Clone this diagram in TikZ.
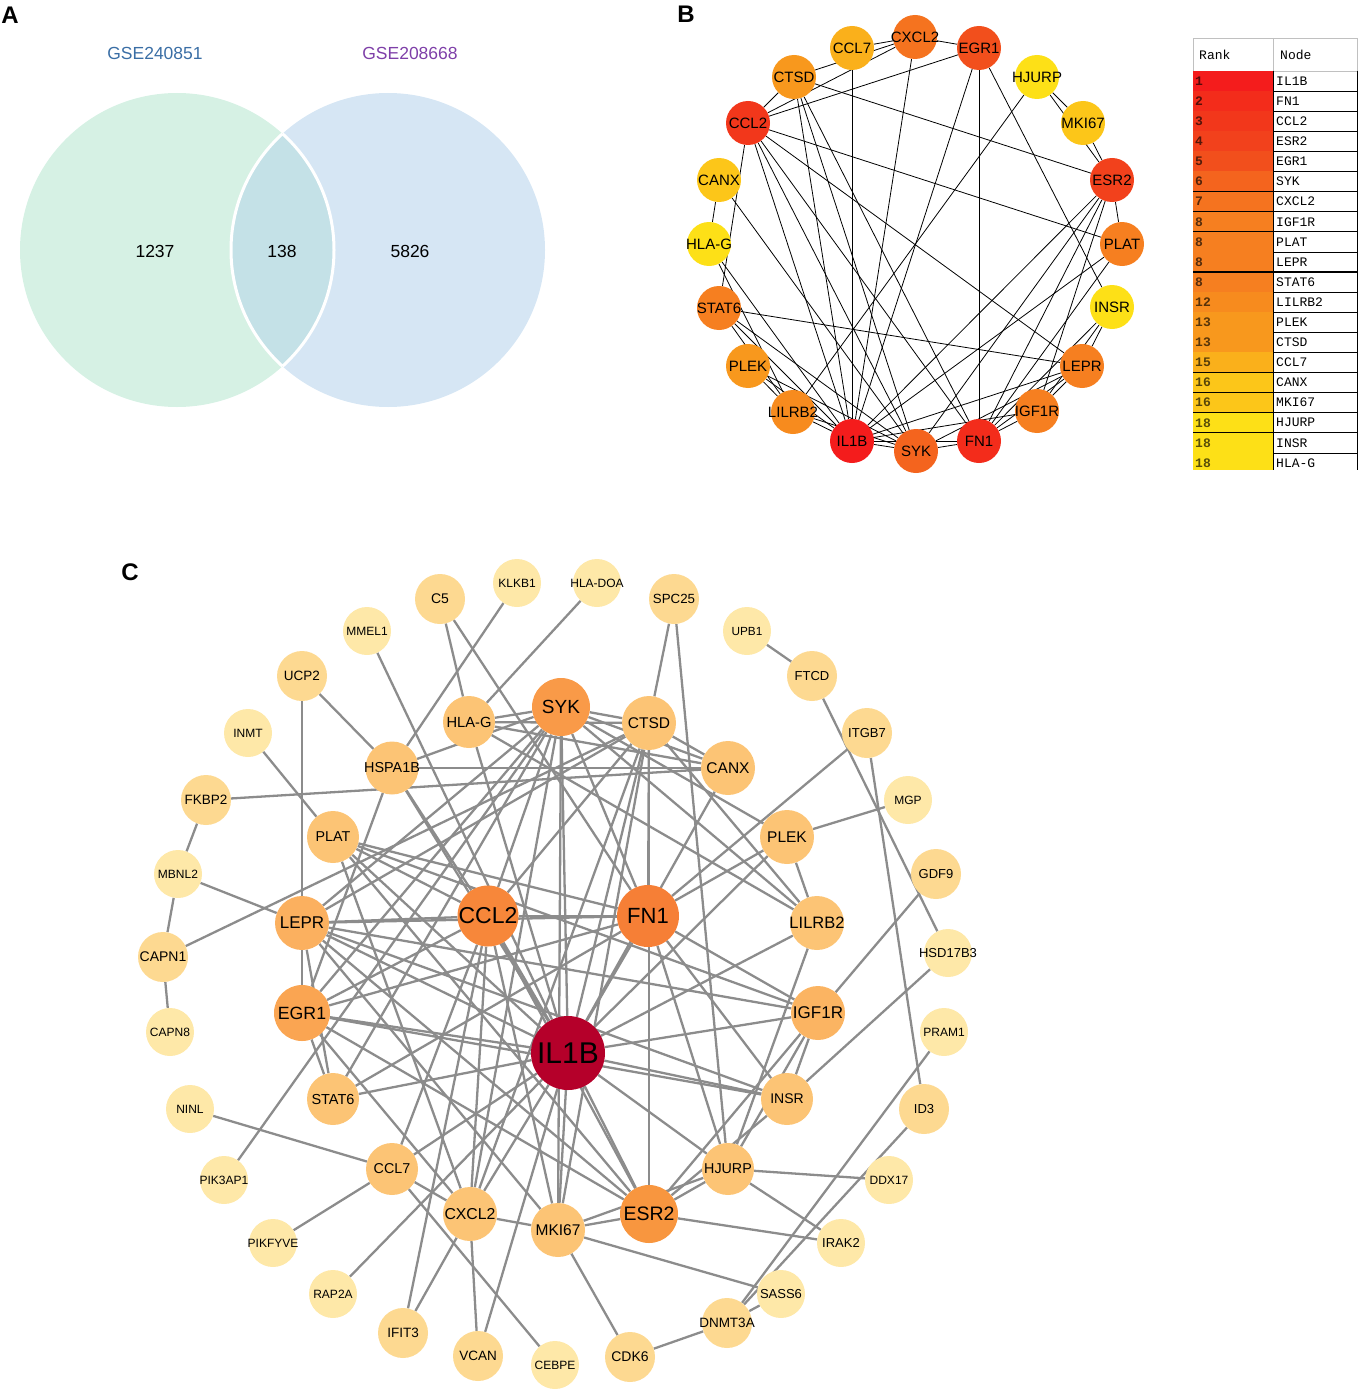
\documentclass[tikz,border=0pt]{standalone}
\usepackage{fontspec}
\setmainfont{Liberation Sans}
\newfontfamily\tabfont{Liberation Mono}
\usetikzlibrary{backgrounds}
\newcommand{\myfs}[1]{\fontsize{#1}{#1}\selectfont}
\newcommand{\zwbox}[1]{\makebox[0pt]{#1}}
% Venn colours
\definecolor{vennL}{HTML}{D6F1E4}
\definecolor{vennR}{HTML}{D6E6F4}
\definecolor{vennM}{HTML}{C4E1E7}
\definecolor{gseA}{HTML}{3A6EA5}
\definecolor{gseB}{HTML}{7E3FA8}
% rank colours (panel B)
\definecolor{rkA}{HTML}{F41C1C}
\definecolor{rkB}{HTML}{F32C1B}
\definecolor{rkC}{HTML}{F2371B}
\definecolor{rkD}{HTML}{F2411C}
\definecolor{rkE}{HTML}{F24F1C}
\definecolor{rkF}{HTML}{F4641E}
\definecolor{rkG}{HTML}{F5731F}
\definecolor{rkH}{HTML}{F67F20}
\definecolor{rkI}{HTML}{F78B1E}
\definecolor{rkJ}{HTML}{F8981D}
\definecolor{rkK}{HTML}{FAB01B}
\definecolor{rkL}{HTML}{FCC619}
\definecolor{rkM}{HTML}{FDE017}
% panel C colours
\definecolor{cIL}{HTML}{B5002A}
\definecolor{cFN}{HTML}{F67F36}
\definecolor{cCC}{HTML}{F7873A}
\definecolor{cES}{HTML}{F8963F}
\definecolor{cSY}{HTML}{F99A48}
\definecolor{cEG}{HTML}{FAA552}
\definecolor{cLE}{HTML}{FBB05F}
\definecolor{cIG}{HTML}{FBB462}
\definecolor{cmid}{HTML}{FCC475}
\definecolor{couta}{HTML}{FDD991}
\definecolor{coutb}{HTML}{FEE8A8}
\definecolor{cgray}{HTML}{8C8C8C}
\definecolor{tabgray}{HTML}{C0C0C0}
\tikzset{
  cn/.style={circle, inner sep=0pt, draw=none, text=black},
  bn/.style={circle, inner sep=0pt, draw=none, text=black, minimum size=44pt, font=\myfs{15}},
  cedge/.style={draw=cgray, line width=2.3pt},
  bedge/.style={draw=black, line width=0.8pt},
  vtxt/.style={inner sep=0pt, font=\myfs{17.5}},
  plabel/.style={inner sep=0pt, font=\myfs{24}\bfseries},
  tabtxt/.style={inner sep=0pt, font=\tabfont\myfs{13}},
  tabline/.style={draw=black, line width=0.8pt}
}
\newcommand{\cnode}[7]{\node[cn, minimum size=#4pt, fill=#5, font=\myfs{#6}] (#1) at (#2,#3) {\zwbox{#7}};}
\newcommand{\bnode}[5]{\node[bn, fill=#4] (#1) at (#2,#3) {\zwbox{#5}};}
\begin{document}
\begin{tikzpicture}[x=1pt,y=-1pt]
\useasboundingbox (0,0) rectangle (1369,1399);
% ---------------- Panel A ----------------
\node[plabel] (labA) at (10,15) {A};
\fill[vennL] (177,250) circle[radius=157pt];
\fill[vennR] (388,250) circle[radius=157pt];
\begin{scope}
  \clip (177,250) circle[radius=157pt];
  \fill[vennM] (388,250) circle[radius=157pt];
  \draw[white, line width=3pt] (388,250) circle[radius=157pt];
\end{scope}
\begin{scope}
  \clip (388,250) circle[radius=157pt];
  \draw[white, line width=3pt] (177,250) circle[radius=157pt];
\end{scope}
\node[vtxt, text=gseA] (setA) at (155,53) {GSE240851};
\node[vtxt, text=gseB] (setB) at (410,53) {GSE208668};
\node[vtxt] (nA) at (155,251) {1237};
\node[vtxt] (nAB) at (282,251) {138};
\node[vtxt] (nB) at (410,251) {5826};
% ---------------- Panel B ----------------
\node[plabel] (labB) at (686,14) {B};
\bnode{bCCL7}{852}{48}{rkK}{CCL7}
\bnode{bCXCL2}{915}{37}{rkG}{CXCL2}
\bnode{bEGR1}{979}{48}{rkE}{EGR1}
\bnode{bHJURP}{1037}{77}{rkM}{HJURP}
\bnode{bMKI67}{1083}{123}{rkL}{MKI67}
\bnode{bESR2}{1112}{180}{rkD}{ESR2}
\bnode{bPLAT}{1122}{244}{rkH}{PLAT}
\bnode{bINSR}{1112}{307}{rkM}{INSR}
\bnode{bLEPR}{1082}{366}{rkH}{LEPR}
\bnode{bIGF1R}{1037}{411}{rkH}{IGF1R}
\bnode{bFN1}{979}{441}{rkB}{FN1}
\bnode{bSYK}{916}{451}{rkF}{SYK}
\bnode{bIL1B}{852}{441}{rkA}{IL1B}
\bnode{bLILRB2}{793}{412}{rkI}{LILRB2}
\bnode{bPLEK}{748}{366}{rkJ}{PLEK}
\bnode{bSTAT6}{719}{308}{rkH}{STAT6}
\bnode{bHLAG}{709}{244}{rkM}{HLA-G}
\bnode{bCANX}{719}{180}{rkL}{CANX}
\bnode{bCCL2}{748}{123}{rkC}{CCL2}
\bnode{bCTSD}{794}{77}{rkJ}{CTSD}
\begin{scope}[on background layer]
\foreach \a/\b in {bCCL7/bCXCL2, bCXCL2/bEGR1, bCTSD/bCXCL2, bCCL2/bCTSD, bCCL2/bCXCL2, bCCL2/bEGR1,
  bCCL7/bIL1B, bCXCL2/bIL1B, bEGR1/bFN1, bEGR1/bIL1B, bEGR1/bINSR, bHJURP/bMKI67, bMKI67/bESR2,
  bHJURP/bESR2, bHJURP/bLILRB2, bCTSD/bESR2, bCCL2/bPLAT, bCCL2/bLEPR, bCCL2/bSTAT6, bCCL2/bIL1B,
  bCCL2/bSYK, bCCL2/bFN1, bCTSD/bIL1B, bCTSD/bSYK, bCTSD/bFN1, bCANX/bHLAG, bCANX/bSYK, bHLAG/bLILRB2,
  bHLAG/bIL1B, bSTAT6/bLEPR, bSTAT6/bIL1B, bSTAT6/bSYK, bSTAT6/bLILRB2, bPLEK/bLILRB2, bPLEK/bIL1B,
  bPLEK/bSYK, bLILRB2/bIL1B, bLILRB2/bSYK, bIL1B/bSYK, bIL1B/bFN1, bSYK/bFN1, bIL1B/bESR2, bIL1B/bPLAT,
  bIL1B/bLEPR, bIL1B/bIGF1R, bFN1/bIGF1R, bFN1/bLEPR, bFN1/bESR2, bFN1/bPLAT, bFN1/bINSR, bESR2/bPLAT,
  bESR2/bIGF1R, bINSR/bIGF1R, bINSR/bLEPR, bIGF1R/bLEPR, bSYK/bLEPR, bSYK/bESR2}
  \draw[bedge] (\a) -- (\b);
\end{scope}
% table
\begin{scope}
\clip (1185,30) rectangle (1369,469);
\draw[tabgray, line width=0.8pt] (1193,38) rectangle (1357,71);
\draw[tabgray, line width=0.8pt] (1273,38) -- (1273,71);
\node[tabtxt, anchor=west] (hRank) at (1199,55) {Rank};
\node[tabtxt, anchor=west] (hNode) at (1280,55) {Node};
\foreach \i/\r/\g/\c in {1/1/IL1B/rkA, 2/2/FN1/rkB, 3/3/CCL2/rkC, 4/4/ESR2/rkD, 5/5/EGR1/rkE,
  6/6/SYK/rkF, 7/7/CXCL2/rkG, 8/8/IGF1R/rkH, 9/8/PLAT/rkH, 10/8/LEPR/rkH, 11/8/STAT6/rkH,
  12/12/LILRB2/rkI, 13/13/PLEK/rkJ, 14/13/CTSD/rkJ, 15/15/CCL7/rkK, 16/16/CANX/rkL,
  17/16/MKI67/rkL, 18/18/HJURP/rkM, 19/18/INSR/rkM, 20/18/HLA-G/rkM} {
  \pgfmathsetmacro{\yt}{71+(\i-1)*20.1}
  \pgfmathsetmacro{\yb}{71+\i*20.1}
  \pgfmathsetmacro{\ym}{71+(\i-0.5)*20.1}
  \fill[\c] (1193,\yt) rectangle (1273,\yb);
  \draw[tabline] (1193,\yb) -- (1357,\yb);
  \draw[tabline] (1273,\yt) -- (1273,\yb);
  \draw[tabline] (1357,\yt) -- (1357,\yb);
  \node[tabtxt, text=\c!35!black, anchor=west, font=\tabfont\myfs{13}\bfseries] (rk\i) at (1195,\ym) {\r};
  \node[tabtxt, anchor=west] (nd\i) at (1276,\ym) {\g};
}
\draw[black, line width=1.6pt] (1193,272) -- (1358,272);
\end{scope}
% ---------------- Panel C ----------------
\node[plabel] (labC) at (130,572) {C};
\cnode{IL1B}{568}{1053}{74}{cIL}{30}{IL1B}
\cnode{CCL2}{488}{916}{61}{cCC}{23}{CCL2}
\cnode{FN1}{648}{916}{62}{cFN}{22}{FN1}
\cnode{SYK}{561}{707}{58}{cSY}{19}{SYK}
\cnode{ESR2}{649}{1214}{58}{cES}{19.5}{ESR2}
\cnode{EGR1}{302}{1013}{56}{cEG}{17.7}{EGR1}
\cnode{LEPR}{302}{923}{54}{cLE}{17}{LEPR}
\cnode{IGF1R}{818}{1013}{54}{cIG}{17}{IGF1R}
\cnode{LILRB2}{817}{923}{54}{cmid}{16.5}{LILRB2}
\cnode{CTSD}{649}{723}{54}{cmid}{15.5}{CTSD}
\cnode{CANX}{728}{768}{54}{cmid}{15.5}{CANX}
\cnode{PLEK}{787}{837}{54}{cmid}{15.5}{PLEK}
\cnode{HLAG}{469}{722}{52}{cmid}{14.7}{HLA-G}
\cnode{HSPA1B}{392}{768}{53}{cmid}{14.4}{HSPA1B}
\cnode{PLAT}{333}{837}{52}{cmid}{14.3}{PLAT}
\cnode{STAT6}{333}{1099}{52}{cmid}{14.5}{STAT6}
\cnode{CCL7}{392}{1169}{52}{cmid}{14.3}{CCL7}
\cnode{CXCL2}{470}{1214}{54}{cmid}{15.8}{CXCL2}
\cnode{MKI67}{558}{1230}{54}{cmid}{15.5}{MKI67}
\cnode{HJURP}{728}{1169}{52}{cmid}{14.3}{HJURP}
\cnode{INSR}{787}{1099}{52}{cmid}{14}{INSR}
\cnode{C5}{440}{599}{50}{couta}{14}{C5}
\cnode{KLKB1}{517}{583}{48}{coutb}{12}{KLKB1}
\cnode{HLADOA}{597}{583}{48}{coutb}{12}{HLA-DOA}
\cnode{SPC25}{674}{599}{50}{couta}{13.3}{SPC25}
\cnode{UPB1}{747}{631}{48}{coutb}{11.8}{UPB1}
\cnode{FTCD}{812}{676}{50}{couta}{13}{FTCD}
\cnode{ITGB7}{867}{733}{50}{couta}{13}{ITGB7}
\cnode{MGP}{908}{800}{48}{coutb}{12}{MGP}
\cnode{GDF9}{936}{874}{50}{couta}{13}{GDF9}
\cnode{HSD17B3}{948}{953}{48}{coutb}{13}{HSD17B3}
\cnode{PRAM1}{944}{1032}{48}{coutb}{12}{PRAM1}
\cnode{ID3}{924}{1109}{50}{couta}{13}{ID3}
\cnode{DDX17}{889}{1180}{48}{coutb}{12}{DDX17}
\cnode{IRAK2}{841}{1243}{48}{coutb}{13}{IRAK2}
\cnode{SASS6}{781}{1294}{48}{coutb}{13}{SASS6}
\cnode{DNMT3A}{727}{1323}{50}{couta}{13.5}{DNMT3A}
\cnode{CDK6}{630}{1357}{50}{couta}{14}{CDK6}
\cnode{CEBPE}{555}{1365}{48}{coutb}{12}{CEBPE}
\cnode{VCAN}{478}{1356}{50}{couta}{13.5}{VCAN}
\cnode{IFIT3}{403}{1333}{50}{couta}{13.5}{IFIT3}
\cnode{RAP2A}{333}{1294}{48}{coutb}{12}{RAP2A}
\cnode{PIKFYVE}{273}{1243}{48}{coutb}{12}{PIKFYVE}
\cnode{PIK3AP1}{224}{1180}{48}{coutb}{12}{PIK3AP1}
\cnode{NINL}{190}{1109}{48}{coutb}{12}{NINL}
\cnode{CAPN8}{170}{1032}{48}{coutb}{12}{CAPN8}
\cnode{CAPN1}{163}{957}{50}{couta}{14}{CAPN1}
\cnode{MBNL2}{178}{874}{48}{coutb}{12}{MBNL2}
\cnode{FKBP2}{206}{800}{50}{couta}{13.5}{FKBP2}
\cnode{INMT}{248}{733}{48}{coutb}{12}{INMT}
\cnode{UCP2}{302}{676}{50}{couta}{13.5}{UCP2}
\cnode{MMEL1}{367}{631}{48}{coutb}{12}{MMEL1}
\begin{scope}[on background layer]
\foreach \a/\b in {C5/HLAG, C5/FN1, KLKB1/HSPA1B, HLADOA/HLAG, SPC25/CTSD, SPC25/HJURP, UPB1/FTCD,
  FTCD/HSD17B3, ITGB7/FN1, ITGB7/ID3, MGP/PLEK, GDF9/IGF1R, HSD17B3/INSR, PRAM1/DNMT3A, ID3/DNMT3A,
  DDX17/HJURP, IRAK2/HJURP, IRAK2/ESR2, SASS6/MKI67, SASS6/DNMT3A, DNMT3A/CDK6, CDK6/MKI67,
  CEBPE/CCL7, VCAN/CXCL2, VCAN/IL1B, IFIT3/CXCL2, IFIT3/CCL2, RAP2A/IL1B, PIKFYVE/CCL7, PIK3AP1/SYK,
  NINL/CCL7, CAPN8/CAPN1, CAPN1/MBNL2, CAPN1/CTSD, MBNL2/LEPR, MBNL2/FKBP2, FKBP2/CANX, INMT/PLAT,
  UCP2/LEPR, UCP2/HSPA1B, MMEL1/IL1B,
  IL1B/CCL2, IL1B/FN1, IL1B/SYK, IL1B/CTSD, IL1B/HLAG, IL1B/HSPA1B, IL1B/PLAT, IL1B/LEPR, IL1B/EGR1,
  IL1B/STAT6, IL1B/CCL7, IL1B/CXCL2, IL1B/MKI67, IL1B/ESR2, IL1B/HJURP, IL1B/INSR, IL1B/IGF1R,
  IL1B/LILRB2, IL1B/PLEK, IL1B/CANX,
  CCL2/FN1, CCL2/SYK, CCL2/CTSD, CCL2/LEPR, CCL2/PLAT, CCL2/EGR1, CCL2/CXCL2, CCL2/HSPA1B, CCL2/CCL7,
  CCL2/MKI67, CCL2/ESR2,
  FN1/SYK, FN1/CTSD, FN1/EGR1, FN1/LEPR, FN1/PLAT, FN1/IGF1R, FN1/INSR, FN1/PLEK, FN1/HJURP, FN1/STAT6,
  SYK/CANX, SYK/CTSD, SYK/PLEK, SYK/LILRB2, SYK/EGR1, SYK/STAT6, SYK/CXCL2, SYK/LEPR, SYK/MKI67,
  SYK/HLAG, SYK/HSPA1B,
  CTSD/CANX, CTSD/ESR2, CTSD/CXCL2, CTSD/MKI67, CTSD/LEPR, CTSD/HLAG, CTSD/LILRB2,
  CANX/HLAG, CANX/HSPA1B,
  LEPR/EGR1, LEPR/IGF1R, LEPR/INSR, LEPR/ESR2, LEPR/MKI67, LEPR/STAT6,
  EGR1/STAT6, EGR1/CXCL2, EGR1/ESR2, EGR1/INSR, EGR1/HSPA1B,
  PLAT/ESR2, PLAT/IGF1R, PLAT/CXCL2,
  CCL7/CXCL2, CXCL2/MKI67, MKI67/ESR2, MKI67/HJURP,
  ESR2/HJURP, ESR2/IGF1R, ESR2/INSR, HJURP/LILRB2, HJURP/IGF1R, INSR/IGF1R,
  PLEK/LILRB2, HLAG/LILRB2}
  \draw[cedge] (\a) -- (\b);
\end{scope}
\end{tikzpicture}
\end{document}
